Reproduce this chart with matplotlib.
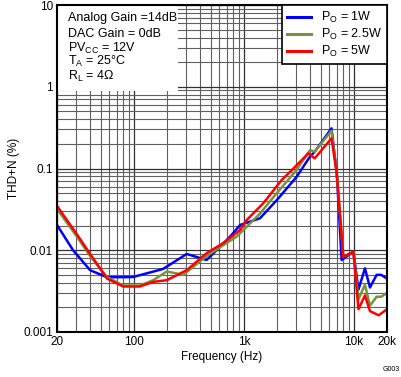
import matplotlib
matplotlib.use("Agg")
import matplotlib.pyplot as plt
from matplotlib.patches import Rectangle
from matplotlib.ticker import LogLocator, FixedLocator, NullFormatter

plt.rcParams['font.family'] = ['Liberation Sans', 'DejaVu Sans']

# data (Hz, THD+N %)
f_1w = [20, 28, 40, 57, 98, 184, 302, 458, 606, 750, 925, 1400, 1990, 3014,
        3990, 4400, 6260, 6990, 7740, 9900, 11000, 12600, 14000, 16100, 17700, 20000]
thd_1w = [0.0204, 0.01, 0.0057, 0.00467, 0.0047, 0.0059, 0.009, 0.0076, 0.011, 0.0147,
          0.0204, 0.0246, 0.041, 0.079, 0.14, 0.16, 0.31, 0.087, 0.0076, 0.0096,
          0.0033, 0.006, 0.0035, 0.005, 0.005, 0.0045]

f_25w = [20, 30, 40, 57, 80, 113, 150, 199, 282, 458, 648, 860, 1400, 1990, 3000,
         3990, 4400, 6260, 6990, 8020, 9900, 11000, 12600, 14000, 16100, 17700, 20000]
thd_25w = [0.032, 0.015, 0.0085, 0.0047, 0.0037, 0.0037, 0.0043, 0.0055, 0.005, 0.0085,
           0.0115, 0.0147, 0.028, 0.05, 0.095, 0.168, 0.16, 0.29, 0.087, 0.0083, 0.0096,
           0.0025, 0.0038, 0.0021, 0.0027, 0.0027, 0.003]

f_5w = [20, 30, 40, 57, 80, 113, 150, 199, 302, 458, 648, 925, 1060, 1500, 2200, 2820,
        3850, 4400, 6260, 6990, 8020, 9900, 11000, 12600, 14000, 16800, 20000]
thd_5w = [0.0348, 0.016, 0.009, 0.0045, 0.0036, 0.0036, 0.0041, 0.0043, 0.0057, 0.0092,
          0.0122, 0.0177, 0.0234, 0.0375, 0.072, 0.1, 0.153, 0.133, 0.234, 0.087, 0.0083,
          0.0096, 0.0019, 0.0028, 0.0018, 0.0016, 0.0019]

x_ticks = [20, 100, 1000, 10000, 20000]
x_labels = ['20', '100', '1k', '10k', '20k']
y_ticks = [0.001, 0.01, 0.1, 1, 10]
y_labels = ['0.001', '0.01', '0.1', '1', '10']

fig = plt.figure(figsize=(4.02, 3.77), dpi=100)
ax = fig.add_axes([0.1418, 0.1194, 0.8209, 0.8673])

ax.plot(f_1w, thd_1w, color='#0000ff', lw=1.8, label=r'P$_\mathregular{O}$ = 1W')
ax.plot(f_25w, thd_25w, color='#77933c', lw=1.8, label=r'P$_\mathregular{O}$ = 2.5W')
ax.plot(f_5w, thd_5w, color='#ff0000', lw=1.8, label=r'P$_\mathregular{O}$ = 5W')

ax.set_xscale('log')
ax.set_yscale('log')
ax.set_xlim(20, 20000)
ax.set_ylim(0.001, 10)

ax.xaxis.set_major_locator(FixedLocator(x_ticks))
ax.set_xticklabels(x_labels)
ax.xaxis.set_minor_locator(LogLocator(base=10, subs=range(2, 10), numticks=20))
ax.xaxis.set_minor_formatter(NullFormatter())
ax.yaxis.set_major_locator(FixedLocator(y_ticks))
ax.set_yticklabels(y_labels)
ax.yaxis.set_minor_locator(LogLocator(base=10, subs=range(2, 10), numticks=20))
ax.yaxis.set_minor_formatter(NullFormatter())

ax.grid(which='major', color='#303030', lw=0.9)
ax.grid(which='minor', color='#606060', lw=0.8)
ax.set_axisbelow(True)
ax.tick_params(which='both', length=0, labelsize=8.5, pad=3)
for s in ax.spines.values():
    s.set_linewidth(1.5)

ax.set_xlabel('Frequency (Hz)', fontsize=8.5, labelpad=2)
ax.set_ylabel('THD+N (%)', fontsize=8.5, labelpad=2)

# white block behind the conditions text (grid hidden there)
ax.add_patch(Rectangle((0, 0.737), 0.367, 0.263, transform=ax.transAxes,
                       facecolor='white', edgecolor='none', zorder=1))

notes = ['Analog Gain =14dB', 'DAC Gain = 0dB', r'PV$_\mathregular{CC}$ = 12V',
         r'T$_\mathregular{A}$ = 25°C', r'R$_\mathregular{L}$ = 4Ω']
note_y = [0.960, 0.911, 0.868, 0.826, 0.780]
for t, yy in zip(notes, note_y):
    ax.text(0.032, yy, t, transform=ax.transAxes, fontsize=9, va='center', zorder=3)

leg = ax.legend(loc='upper right', fontsize=9, frameon=True, fancybox=False,
                edgecolor='black', framealpha=1, borderaxespad=0, handlelength=1.9,
                labelspacing=0.15, borderpad=0.4)
leg.get_frame().set_linewidth(1.2)
for l in leg.get_lines():
    l.set_linewidth(2.2)

fig.text(0.995, 0.01, 'G003', fontsize=5, ha='right', va='bottom')

fig.savefig('out.png', dpi=100)
